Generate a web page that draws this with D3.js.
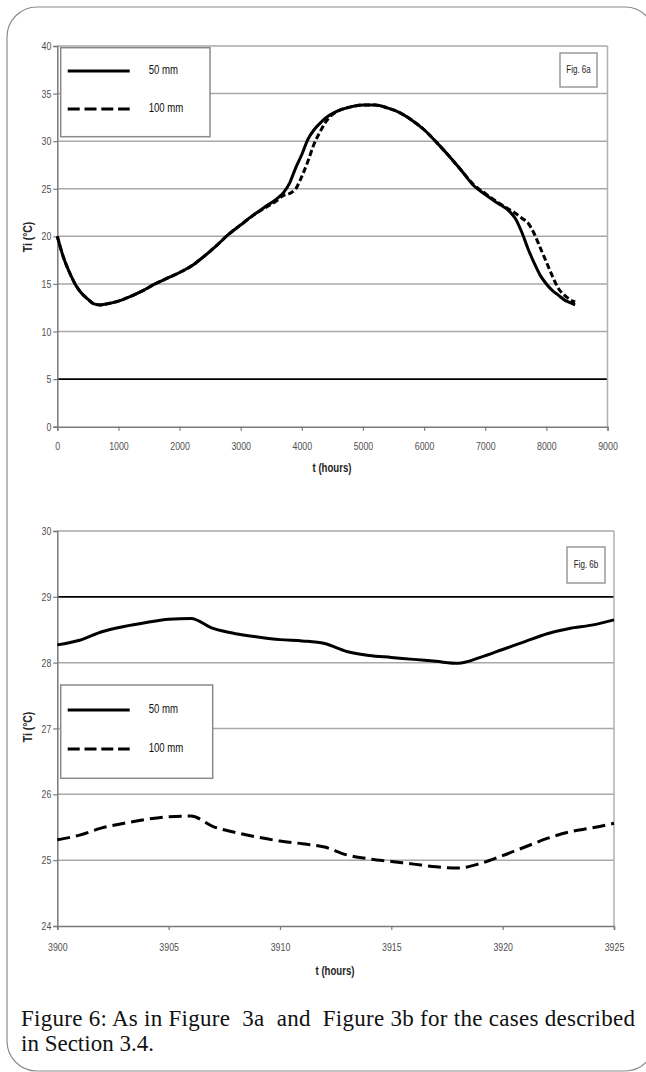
<!DOCTYPE html>
<meta charset="utf-8">
<style>
  body { margin: 0; background: #fff; }
  svg { display: block; }
  .tick text { font-family: "Liberation Sans", Arial, sans-serif; font-size: 11px; fill: #505050; }
</style>
<svg width="646" height="1072"></svg>
<script src="https://cdn.jsdelivr.net/npm/d3@7"></script>
<script>

// ---- data ----
var seriesNames = ["50 mm", "100 mm"];

// Fig 6a: whole year
var hoursA = [0, 100, 200, 300, 400, 500, 600, 700, 800, 1000, 1200, 1400, 1600, 1800, 2000,
  2200, 2400, 2600, 2800, 3000, 3200, 3400, 3600, 3700, 3800, 3900, 4000, 4100, 4200, 4300,
  4400, 4500, 4600, 4800, 5000, 5200, 5400, 5600, 5800, 6000, 6200, 6400, 6600, 6800, 7000,
  7200, 7400, 7500, 7600, 7700, 7800, 7900, 8000, 8100, 8200, 8300, 8400, 8470];
var tiA50 = [20.0, 17.8, 16.2, 14.9, 14.0, 13.4, 12.9, 12.8, 12.9, 13.2, 13.7, 14.3, 15.0, 15.6, 16.2,
  16.9, 17.9, 19.0, 20.2, 21.2, 22.2, 23.1, 24.0, 24.6, 25.6, 27.2, 28.6, 30.2, 31.2, 31.9,
  32.5, 32.9, 33.2, 33.6, 33.8, 33.8, 33.5, 33.0, 32.2, 31.2, 29.9, 28.5, 27.0, 25.4, 24.4,
  23.5, 22.6, 21.8, 20.4, 18.7, 17.2, 15.9, 15.0, 14.3, 13.8, 13.3, 13.0, 12.8];
var tiA100 = [20.0, 17.8, 16.2, 14.9, 14.0, 13.4, 12.9, 12.8, 12.9, 13.2, 13.7, 14.3, 15.0, 15.6, 16.2,
  16.9, 17.9, 19.0, 20.2, 21.2, 22.2, 23.0, 23.8, 24.3, 24.5, 25.0, 26.3, 27.9, 29.7, 31.0,
  32.1, 32.8, 33.2, 33.6, 33.8, 33.8, 33.5, 33.0, 32.2, 31.2, 29.9, 28.5, 27.0, 25.5, 24.5,
  23.6, 22.8, 22.4, 21.9, 21.4, 20.3, 18.8, 17.3, 15.8, 14.5, 13.8, 13.3, 13.1];
var ticksXA = [0, 1000, 2000, 3000, 4000, 5000, 6000, 7000, 8000, 9000];
var ticksYA = [0, 5, 10, 15, 20, 25, 30, 35, 40];

// Fig 6b: zoom on 25 hours
var hoursB = [3900, 3901, 3902, 3903, 3904, 3905, 3906, 3907, 3908, 3909, 3910, 3911, 3912,
  3913, 3914, 3915, 3916, 3917, 3918, 3919, 3920, 3921, 3922, 3923, 3924, 3925];
var tiB50 = [28.27, 28.34, 28.47, 28.55, 28.61, 28.66, 28.67, 28.52, 28.44, 28.39, 28.35, 28.33, 28.29,
  28.17, 28.11, 28.08, 28.05, 28.02, 27.99, 28.08, 28.20, 28.32, 28.44, 28.52, 28.57, 28.65];
var tiB100 = [25.31, 25.38, 25.49, 25.56, 25.62, 25.66, 25.67, 25.51, 25.42, 25.35, 25.29, 25.25, 25.20,
  25.08, 25.02, 24.98, 24.94, 24.90, 24.88, 24.95, 25.07, 25.20, 25.33, 25.43, 25.49, 25.56];
var ticksXB = [3900, 3905, 3910, 3915, 3920, 3925];
var ticksYB = [24, 25, 26, 27, 28, 29, 30];

var sans = '"Liberation Sans", Arial, sans-serif';
var svg = d3.select("svg");

// rounded frame around the figure
svg.append("rect")
    .attr("x", 7).attr("y", 7).attr("width", 648).attr("height", 1064)
    .attr("rx", 30).attr("ry", 30)
    .attr("fill", "none").attr("stroke", "#8c8c8c").attr("stroke-width", 1.2);

function drawChart(o) {
  var g = svg.append("g");
  var x = d3.scaleLinear().domain(o.xDomain).range([o.left, o.right]);
  var y = d3.scaleLinear().domain(o.yDomain).range([o.bottom, o.top]);

  // horizontal gridlines, one of them black
  g.selectAll("line.grid")
    .data(o.yTicks.filter(function(v) { return v !== o.yDomain[0]; }))
    .join("line")
      .attr("x1", o.left).attr("x2", o.right)
      .attr("y1", function(d) { return y(d); }).attr("y2", function(d) { return y(d); })
      .attr("stroke", function(d) { return d === o.darkLine ? "#000" : "#a8a8a8"; })
      .attr("stroke-width", function(d) { return d === o.darkLine ? 1.6 : 1.5; });

  g.append("line")
      .attr("x1", o.right).attr("x2", o.right).attr("y1", o.top).attr("y2", o.bottom)
      .attr("stroke", "#b0b0b0").attr("stroke-width", 1.5);

  var ax = g.append("g")
      .attr("transform", "translate(0," + o.bottom + ")")
      .call(d3.axisBottom(x).tickValues(o.xTicks).tickSize(4).tickPadding(o.xPad).tickFormat(d3.format("d")));
  var ay = g.append("g")
      .attr("transform", "translate(" + o.left + ",0)")
      .call(d3.axisLeft(y).tickValues(o.yTicks).tickSize(4).tickPadding(2).tickFormat(d3.format("d")));
  [ax, ay].forEach(function(a) {
    a.select(".domain").attr("stroke", "#7a7a7a").attr("stroke-width", 1.5);
    a.selectAll(".tick line").attr("stroke", "#7a7a7a").attr("stroke-width", 1.2);
  });

  // series
  var line = d3.line()
      .x(function(d) { return x(d[0]); })
      .y(function(d) { return y(d[1]); })
      .curve(d3.curveMonotoneX);
  g.append("path")
      .datum(o.hours.map(function(h, i) { return [h, o.s50[i]]; }))
      .attr("d", line).attr("fill", "none")
      .attr("stroke", "#000").attr("stroke-width", o.lw);
  g.append("path")
      .datum(o.hours.map(function(h, i) { return [h, o.s100[i]]; }))
      .attr("d", line).attr("fill", "none")
      .attr("stroke", "#000").attr("stroke-width", o.lw)
      .attr("stroke-dasharray", o.dash);

  // axis titles
  g.append("text").attr("class", "narrow")
      .attr("x", o.xTitle[0]).attr("y", o.xTitle[1])
      .attr("text-anchor", "middle").attr("dominant-baseline", "middle")
      .attr("font-family", sans).attr("font-size", 12).attr("font-weight", "bold")
      .attr("fill", "#222").text("t (hours)");
  g.append("text").attr("class", "narrow")
      .attr("transform", "translate(" + o.yTitle[0] + "," + o.yTitle[1] + ") rotate(-90)")
      .attr("text-anchor", "middle").attr("dominant-baseline", "middle")
      .attr("font-family", sans).attr("font-size", 13).attr("font-weight", "bold")
      .attr("fill", "#222").text("Ti (°C)");

  // legend
  var lg = g.append("g");
  lg.append("rect")
      .attr("x", o.legend[0]).attr("y", o.legend[1]).attr("width", o.legend[2]).attr("height", o.legend[3])
      .attr("fill", "#fff").attr("stroke", "#8a8a8a").attr("stroke-width", 1.5);
  seriesNames.forEach(function(name, i) {
    var ly = o.legendRows[i];
    lg.append("line")
        .attr("x1", o.legend[0] + 7).attr("x2", o.legend[0] + 69)
        .attr("y1", ly).attr("y2", ly)
        .attr("stroke", "#000").attr("stroke-width", 3.2)
        .attr("stroke-dasharray", i === 1 ? "12,4.8" : null);
    lg.append("text").attr("class", "narrow")
        .attr("x", o.legend[0] + 88).attr("y", ly)
        .attr("dominant-baseline", "middle")
        .attr("font-family", sans).attr("font-size", 12)
        .attr("fill", "#111").text(name);
  });

  // figure tag
  g.append("rect")
      .attr("x", o.tag[0]).attr("y", o.tag[1]).attr("width", o.tag[2]).attr("height", o.tag[3])
      .attr("fill", "#fff").attr("stroke", "#8a8a8a").attr("stroke-width", 1.3);
  g.append("text").attr("class", "narrow")
      .attr("x", o.tag[0] + o.tag[2] / 2).attr("y", o.tag[1] + o.tag[3] / 2)
      .attr("text-anchor", "middle").attr("dominant-baseline", "middle")
      .attr("font-family", sans).attr("font-size", 10)
      .attr("fill", "#222").text(o.tagText);
}

drawChart({
  xDomain: [0, 9000], yDomain: [0, 40],
  left: 57.3, right: 607.5, top: 46, bottom: 426.7,
  xTicks: ticksXA, yTicks: ticksYA, darkLine: 5, xPad: 12,
  hours: hoursA, s50: tiA50, s100: tiA100, lw: 3, dash: "6,3",
  xTitle: [332, 469], yTitle: [29, 237],
  legend: [60.7, 47.7, 149.3, 89], legendRows: [71, 109],
  tag: [560, 53, 37, 34], tagText: "Fig. 6a"
});

drawChart({
  xDomain: [3900, 3925], yDomain: [24, 30],
  left: 57.3, right: 614, top: 531, bottom: 926,
  xTicks: ticksXB, yTicks: ticksYB, darkLine: 29, xPad: 13,
  hours: hoursB, s50: tiB50, s100: tiB100, lw: 3, dash: "13,6",
  xTitle: [335, 972], yTitle: [29, 727],
  legend: [60.7, 685, 152, 93.3], legendRows: [710, 749],
  tag: [567, 547, 38, 36], tagText: "Fig. 6b"
});

// squeeze the chart labels to a narrow face, like Arial Narrow
svg.selectAll(".tick text, text.narrow").each(function() {
  var w = this.getComputedTextLength();
  d3.select(this).attr("textLength", w * 0.8).attr("lengthAdjust", "spacingAndGlyphs");
});

// caption
var cap = svg.append("g")
    .attr("font-family", '"Liberation Serif", "Times New Roman", serif')
    .attr("font-size", 23).attr("fill", "#111");
cap.append("text").attr("x", 21).attr("y", 1026)
    .attr("textLength", 614).attr("lengthAdjust", "spacing")
    .style("white-space", "pre")
    .text("Figure 6: As in Figure  3a  and  Figure 3b for the cases described");
cap.append("text").attr("x", 21).attr("y", 1051)
    .text("in Section 3.4.");

</script>
